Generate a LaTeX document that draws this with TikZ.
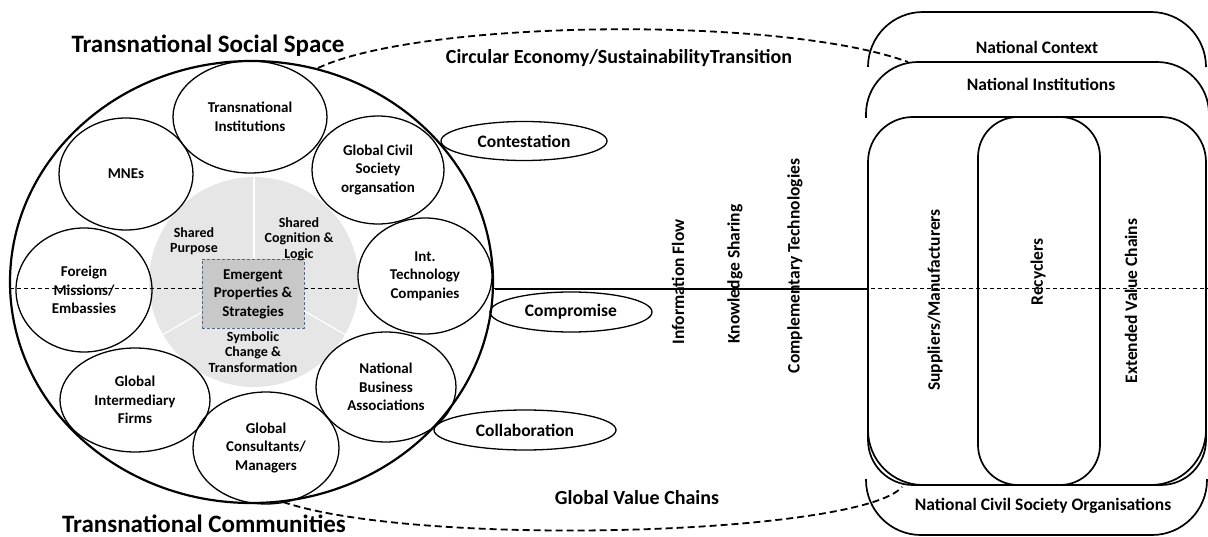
\documentclass[tikz,border=0pt]{standalone}
\usepackage{fontspec}
\setmainfont{Carlito}
\usetikzlibrary{shapes.geometric}
\definecolor{coreGrey}{RGB}{230,230,230}
\definecolor{boxGrey}{RGB}{200,200,200}
\definecolor{boxEdge}{RGB}{84,104,134}
\newcommand{\txtsize}[2]{\fontsize{#1}{#2}\selectfont}
\tikzset{
  actor/.style={ellipse,draw,line width=1.3pt,inner sep=0pt,align=center,font=\bfseries\txtsize{15}{18.5}},
  mode/.style={ellipse,draw,line width=1.3pt,inner sep=0pt,font=\bfseries\txtsize{17.5}{20}},
  pillar/.style={rotate=90,font=\bfseries\txtsize{17.5}{20}},
  tag/.style={align=center,font=\bfseries\txtsize{14}{15.5}},
  heading/.style={font=\bfseries\txtsize{20}{24}},
  bigtitle/.style={font=\bfseries\txtsize{25}{30}},
  frame/.style={line width=1.7pt},
  flow/.style={line width=1.8pt,dash pattern=on 7pt off 4pt},
}

\begin{document}
\begin{tikzpicture}[x=1pt,y=-1pt]
\useasboundingbox (0,0) rectangle (1208,537);

% shared core of the social space
\fill[coreGrey] (254,282) circle (105);
\foreach \a in {90,210,330}
  \draw[white,line width=1.2pt] (254,282) -- ++({105*cos(\a)},{-105*sin(\a)});

% axis through the whole scheme
\coordinate (axisL) at (10,288);
\coordinate (axisR) at (1208,288);
\draw[line width=0.8pt,dash pattern=on 4pt off 3pt] (axisL) -- (axisR);

\node[draw=boxEdge,fill=boxGrey,line width=1pt,dash pattern=on 3pt off 2pt,
      minimum width=102pt,minimum height=69pt,align=center,
      font=\bfseries\txtsize{15}{18.5}] (core) at (253,294) {Emergent\\Properties \&\\Strategies};
\node[tag] (purpose) at (194,241) {Shared\\Purpose};
\node[tag] (logic) at (299,239) {Shared\\Cognition \&\\Logic};
\node[tag] (symbol) at (253,352) {Symbolic\\Change \&\\Transformation};

% actors inside the social space
\node[actor,minimum width=154pt,minimum height=112pt] (inst) at (250,117) {Transnational\\Institutions};
\node[actor,minimum width=134pt,minimum height=112pt] (mne) at (126,174) {MNEs};
\node[actor,minimum width=132pt,minimum height=108pt] (civil) at (378,170) {Global Civil\\Society\\organsation};
\node[actor,fill=white,minimum width=134pt,minimum height=116pt] (tech) at (425,276) {Int.\\Technology\\Companies};
\node[actor,minimum width=136pt,minimum height=124pt] (embassy) at (84,290) {Foreign\\Missions/\\Embassies};
\node[actor,minimum width=150pt,minimum height=104pt] (broker) at (135,400) {Global\\Intermediary\\Firms};
\node[actor,minimum width=146pt,minimum height=112pt] (consult) at (266,448) {Global\\Consultants/\\Managers};
\node[actor,minimum width=140pt,minimum height=110pt] (business) at (386,387) {National\\Business\\Associations};

\node[ellipse,draw,line width=2.2pt,minimum width=483pt,minimum height=442pt] (ring) at (251.5,282) {};

% modes of interaction
\node[mode,minimum width=166pt,minimum height=39pt] (contest) at (524,141) {Contestation};
\node[mode,minimum width=162pt,minimum height=40pt] (compromise) at (571,312) {Compromise};
\node[mode,minimum width=182pt,minimum height=40pt] (collab) at (525,430) {Collaboration};

% link to the national side
\coordinate (linkL) at (495,289);
\coordinate (linkR) at (868,289);
\draw[line width=2.8pt] (linkL) -- (linkR);
\node[pillar] (info) at (678,282) {Information Flow};
\node[pillar] (know) at (735,274) {Knowledge Sharing};
\node[pillar] (compl) at (795,266) {Complementary Technologies};

% transition envelope
\coordinate (envTopL) at (318,68);
\coordinate (envTopR) at (908,62);
\coordinate (envBotL) at (283,502);
\coordinate (envBotR) at (902,487);
\draw[flow] (envTopL) .. controls (420,20) and (780,15) .. (envTopR);
\draw[flow] (envBotL) .. controls (420,548) and (860,535) .. (envBotR);

% national context
\draw[frame,rounded corners=55pt] (868,67) -- (868,12) -- (1206,12) -- (1206,67);
\draw[frame,rounded corners=52pt] (866,118) -- (866,62) -- (1209,62) -- (1209,118);
\draw[frame,rounded corners=45pt] (868,117) rectangle (1206,485);
\draw[frame,rounded corners=55pt] (868,380) -- (868,485) -- (1206,485) -- (1206,380);
\draw[frame,rounded corners=40pt] (978,117) rectangle (1100,485);
\draw[frame,rounded corners=55pt] (866,479) -- (866,535) -- (1207,535) -- (1207,479);

\node[font=\bfseries\txtsize{17.5}{20}] (context) at (1037,47) {National Context};
\node[font=\bfseries\txtsize{17.5}{20}] (natinst) at (1041,84) {National Institutions};
\node[font=\bfseries\txtsize{17.5}{20}] (ncso) at (1043,506) {National Civil Society Organisations};
\node[pillar] (supply) at (935,300) {Suppliers/Manufacturers};
\node[pillar] (recycle) at (1038,272) {Recyclers};
\node[pillar] (extend) at (1131,301) {Extended Value Chains};

% headings
\node[bigtitle] (space) at (208,46) {Transnational Social Space};
\node[bigtitle] (communities) at (204,524) {Transnational Communities};
\node[heading] (circular) at (619,58) {Circular Economy/SustainabilityTransition};
\node[heading] (gvc) at (637,498) {Global Value Chains};
\end{tikzpicture}
\end{document}
